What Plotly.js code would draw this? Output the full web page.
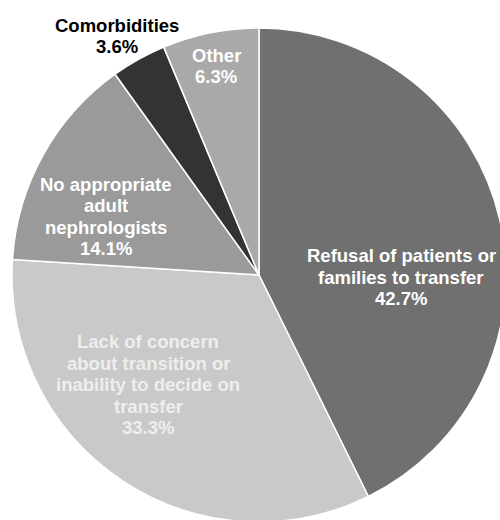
<!DOCTYPE html>
<html>
<head>
<meta charset="utf-8">
<script src="https://cdn.plot.ly/plotly-3.0.1.min.js"></script>
<style>
html, body { margin: 0; padding: 0; overflow: hidden; background: #ffffff; }
#chart { width: 520px; height: 550px; }
</style>
</head>
<body>
<div id="chart"></div>
<script>
// Data
const categories = [
  "Refusal of patients or<br>families to transfer",
  "Lack of concern<br>about transition or<br>inability to decide on<br>transfer",
  "No appropriate<br>adult<br>nephrologists",
  "Comorbidities",
  "Other"
];
const shares = [42.7, 33.3, 14.1, 3.6, 6.3];
const sliceColors = ["#707070", "#c9c9c9", "#9a9a9a", "#333333", "#a9a9a9"];

// Label placement (pixels in a 520x550 canvas) and text colours
const W = 520, H = 550;
const labelPos = [[401, 277], [148, 384.5], [106, 216.5], [117, 36], [216, 66]];
const labelColors = ["#ffffff", "#eeeeee", "#ffffff", "#000000", "#ffffff"];
const lineStep = 21.5;

const trace = {
  type: "pie",
  values: shares,
  labels: categories,
  sort: false,
  direction: "clockwise",
  rotation: 0,
  textinfo: "none",
  hoverinfo: "label+value",
  marker: { colors: sliceColors, line: { color: "#ffffff", width: 1.5 } },
  domain: { x: [12 / W, 506 / W], y: [1 - 522 / H, 1 - 28 / H] },
  showlegend: false
};

const annotations = [];
categories.forEach((c, i) => {
  const lines = c.split("<br>").concat([shares[i].toFixed(1) + "%"]);
  const n = lines.length;
  lines.forEach((ln, k) => {
    const py = labelPos[i][1] + (k - (n - 1) / 2) * lineStep;
    annotations.push({
      text: "<b>" + ln + "</b>",
      x: labelPos[i][0] / W,
      y: 1 - py / H,
      xref: "paper", yref: "paper",
      xanchor: "center", yanchor: "middle",
      showarrow: false,
      font: { family: "Liberation Sans, Arial, sans-serif", size: 18.5, color: labelColors[i] }
    });
  });
});

const layout = {
  width: W, height: H,
  margin: { l: 0, r: 0, t: 0, b: 0 },
  paper_bgcolor: "#ffffff",
  showlegend: false,
  annotations: annotations
};

Plotly.newPlot("chart", [trace], layout, { displayModeBar: false, staticPlot: true });
</script>
</body>
</html>
